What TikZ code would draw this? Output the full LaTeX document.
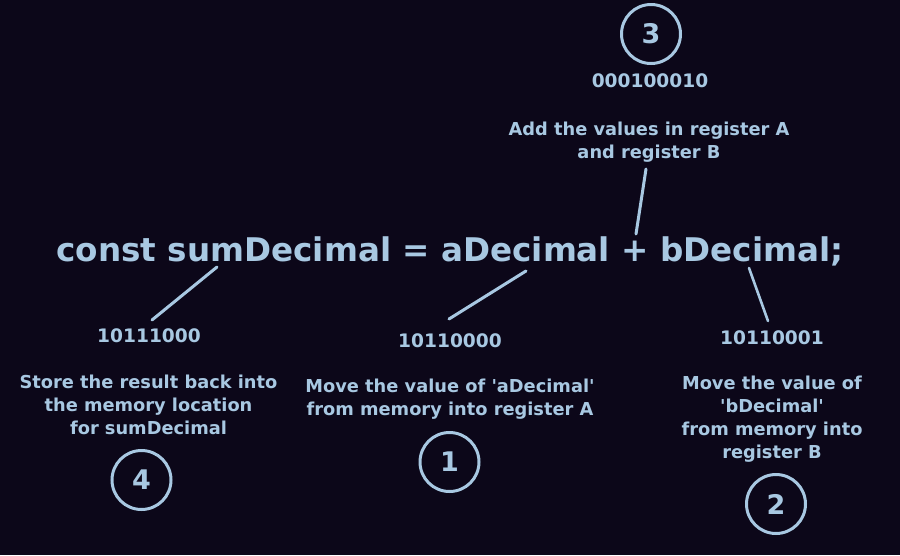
\documentclass[tikz,border=0pt]{standalone}
\usepackage{fontspec}
\setmainfont{DejaVu Sans}
\usetikzlibrary{positioning}
\definecolor{asmBg}{HTML}{0C0719}
\definecolor{asmFg}{HTML}{A8C8E2}
\tikzset{
  codeline/.style={font=\fontsize{32.6}{40}\selectfont\bfseries, text=asmFg, inner sep=0pt},
  opcode/.style={font=\fontsize{18.6}{21}\selectfont\bfseries, text=asmFg, inner sep=0pt},
  note/.style={font=\fontsize{17.8}{23}\selectfont\bfseries, text=asmFg, align=center, inner sep=0pt},
  stepnum/.style={
    draw=asmFg, line width=3pt, circle, minimum size=59pt, inner sep=0pt,
    font=\fontsize{27}{30}\selectfont\bfseries, text=asmFg
  },
  pointer/.style={draw=asmFg, line width=3pt, line cap=round}
}
\newcommand{\sq}{\textquotesingle}

\begin{document}
\begin{tikzpicture}[x=1pt, y=-1pt]
  \fill[asmBg] (0,0) rectangle (900,555);
  \useasboundingbox (0,0) rectangle (900,555);

  % the statement being compiled
  \node[codeline, anchor=base] (code) at (450,261) {const sumDecimal = aDecimal + bDecimal;};

  % machine code for each part
  \node[opcode] (op3) at (650,81) {000100010};
  \node[opcode] (op4) at (149,336) {10111000};
  \node[opcode] (op1) at (450,341) {10110000};
  \node[opcode] (op2) at (772,338) {10110001};

  \node[note, anchor=north] (n3) at (649,122) {Add the values in register A\\and register B};
  \node[note, anchor=north] (n4) at (148.5,375) {Store the result back into\\the memory location\\for sumDecimal};
  \node[note, anchor=north] (n1) at (450,379) {Move the value of \sq aDecimal\sq\\from memory into register A};
  \node[note, anchor=north] (n2) at (772,376) {Move the value of\\\sq bDecimal\sq\\from memory into\\register B};

  \node[stepnum] (s3) at (651,34) {3};
  \node[stepnum] (s4) at (141.5,480) {4};
  \node[stepnum] (s1) at (449.5,462) {1};
  \node[stepnum] (s2) at (776,504) {2};

  % pointer lines from the code to the opcodes
  \coordinate (sumAt) at (217,267);
  \coordinate (sumEnd) at (152,320);
  \coordinate (aAt) at (526,271);
  \coordinate (aEnd) at (449,319);
  \coordinate (bAt) at (749,268);
  \coordinate (bEnd) at (768,321);
  \coordinate (plusAt) at (636,234);
  \coordinate (plusEnd) at (646,169);
  \draw[pointer] (sumAt) -- (sumEnd);
  \draw[pointer] (aAt) -- (aEnd);
  \draw[pointer, line width=2.6pt] (bAt) -- (bEnd);
  \draw[pointer] (plusAt) -- (plusEnd);
\end{tikzpicture}
\end{document}
